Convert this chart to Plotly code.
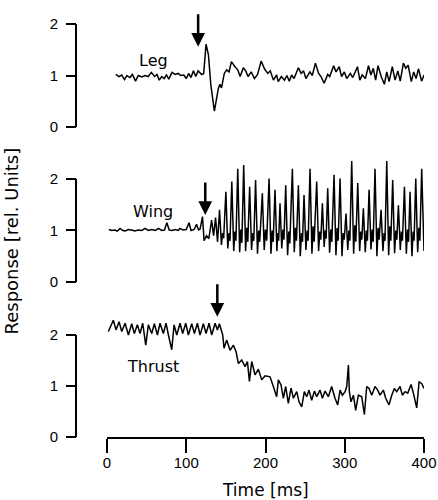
import plotly.graph_objects as go

# ---------------- data ----------------
leg_t = [11, 15, 18.5, 22, 25, 29, 32, 36, 39.5, 44,
         48, 52, 56, 60, 63, 66, 69, 72, 75, 78,
         82, 86, 90, 93, 97, 100, 103, 106, 109, 112,
         115, 119.5, 122, 125, 128, 131, 135.5, 138.5, 140.5, 142.5,
         144.5, 148, 151, 154, 157, 161.5, 165, 168, 172, 175,
         178, 182, 186, 190, 194.5, 199, 203, 206, 210, 214,
         216, 220, 224, 227, 230, 233, 236, 241.5, 245, 248,
         251, 256, 259, 263, 267, 270, 274, 278.5, 281, 286,
         289, 293, 296, 299.5, 302.5, 307, 310, 313, 316, 319,
         322, 326, 330, 333, 336, 339, 342, 346, 350, 353,
         356, 360, 363.5, 367, 370, 374, 377, 380, 384, 387,
         390, 393, 397, 400]
leg_v = [1.02, 0.98, 1.01, 0.92, 1.00, 0.96, 1.02, 0.89, 1.00, 0.97,
         1.00, 0.98, 1.06, 0.98, 1.02, 0.91, 0.98, 0.94, 1.01, 0.93,
         1.06, 1.02, 1.04, 1.00, 1.01, 0.94, 1.04, 0.96, 1.09, 0.98,
         1.09, 1.02, 1.04, 1.61, 1.40, 0.82, 0.31, 0.59, 0.75, 0.83,
         0.76, 1.04, 1.11, 1.07, 1.27, 1.17, 1.11, 0.98, 1.15, 1.09,
         0.98, 1.07, 0.94, 1.02, 1.28, 1.12, 1.04, 1.09, 0.91, 1.01,
         0.88, 0.98, 0.91, 1.00, 0.89, 1.01, 0.94, 1.15, 1.04, 1.09,
         0.94, 1.07, 1.00, 1.24, 1.04, 0.98, 0.85, 1.02, 0.98, 1.19,
         1.07, 1.17, 0.98, 1.07, 0.94, 1.04, 0.96, 1.06, 1.17, 0.91,
         1.01, 0.94, 1.19, 1.01, 1.14, 0.91, 1.19, 0.98, 0.83, 1.07,
         0.88, 1.17, 0.91, 1.09, 0.89, 1.24, 1.14, 1.20, 0.88, 1.07,
         0.94, 1.13, 0.89, 1.01]

wing_t = [2.5, 6, 10, 13, 16.5, 20, 23, 27, 31, 35,
          39.5, 44, 48, 52, 56.5, 61, 65, 69, 72.5, 75.5,
          78.5, 82, 86, 90, 92, 96, 100, 103.5, 106, 110,
          113, 115.5, 117.5, 120.5, 122.5, 125.5, 128.5,
          132, 134.5, 137, 139.5, 142, 144.4, 145.9, 147.2,
          150, 152.4, 153.9, 155.2, 157.5, 159.9, 161.4, 162.7,
          165, 167.4, 168.9, 170.2, 172.5, 174.9, 176.4, 177.7,
          180, 182.4, 183.9, 185.2, 187.5, 189.9, 191.4, 192.7,
          196, 198.4, 199.9, 201.5,
          204.5, 206.9, 208.4, 209.7, 212, 214.4, 215.5, 216.6,
          218.3, 220.5, 222, 223.3, 225.5, 227.9, 229.4, 230.7,
          233.9, 236.3, 237.8, 239.1, 241.5, 243.9, 245.4, 246.7,
          248.6, 251, 252.5, 253.8, 256.2, 258.6, 260.1, 261.4,
          264.6, 267, 268.5, 269.8, 271.8, 274, 275.3, 276.5,
          278.5, 280.9, 282.4, 283.7, 286.5, 288.9, 290.4, 291.7,
          294.1, 296.5, 298, 299.3, 301.6, 303.8, 305.2, 306.5,
          308.8, 311.2, 312.7, 314, 316.4, 318.8, 320.2, 321.5,
          323.5, 325.9, 327.3, 328.6, 330.7, 333.1, 334.6, 335.9,
          338.2, 340.6, 342.1, 343.4, 345.8, 348.2, 349.6, 350.8,
          353, 355.4, 356.9, 358.2, 360.5, 362.9, 364.4, 365.7,
          367.7, 370.1, 371.5, 372.8, 375.3, 377.7, 379.2, 380.5,
          382.4, 384.8, 386.3, 387.5, 389.6, 392, 393.5, 394.8,
          397.1, 400]
wing_v = [1.02, 1.00, 1.01, 0.99, 1.04, 1.00, 0.99, 1.02, 1.01, 0.99,
          1.01, 1.00, 1.04, 1.00, 1.02, 1.00, 1.04, 1.00, 1.01, 1.15,
          1.01, 1.00, 1.02, 1.00, 1.04, 1.01, 1.02, 1.15, 1.00, 1.02,
          1.12, 1.01, 1.03, 1.27, 0.80, 0.90, 0.84,
          1.20, 0.90, 1.25, 0.78, 1.40, 0.72, 0.95, 0.85,
          1.75, 0.65, 0.95, 0.80, 1.95, 0.60, 0.98, 0.80,
          2.20, 0.58, 1.02, 0.76, 2.27, 0.60, 1.05, 0.78,
          1.85, 0.62, 0.95, 0.80, 1.98, 0.55, 1.00, 0.78,
          1.72, 0.62, 1.02, 0.80,
          2.01, 0.55, 1.00, 0.78, 1.79, 0.60, 0.95, 0.80,
          1.53, 0.65, 1.02, 0.82, 1.88, 0.52, 0.98, 0.75,
          2.20, 0.58, 1.05, 0.80, 1.88, 0.50, 0.95, 0.78,
          1.69, 0.62, 1.00, 0.80, 2.20, 0.55, 1.08, 0.78,
          1.95, 0.60, 0.98, 0.82, 1.53, 0.68, 1.00, 0.84,
          1.82, 0.57, 1.02, 0.78, 2.08, 0.52, 1.05, 0.80,
          2.01, 0.50, 0.95, 0.82, 1.33, 0.62, 1.00, 0.80,
          2.35, 0.55, 1.10, 0.78, 1.92, 0.60, 0.98, 0.82,
          1.43, 0.58, 1.00, 0.80, 1.79, 0.63, 1.02, 0.78,
          2.20, 0.50, 1.05, 0.82, 1.40, 0.60, 0.95, 0.80,
          2.35, 0.52, 1.08, 0.80, 1.98, 0.56, 1.00, 0.82,
          1.49, 0.62, 0.98, 0.80, 1.85, 0.55, 1.02, 0.78,
          1.75, 0.50, 0.98, 0.80, 2.01, 0.58, 1.05, 0.80,
          2.20, 0.60]

thrust_t = [1.7, 8, 11.4, 15.2, 18.6, 22.8, 27, 31.2, 34.5, 38.3,
            41.7, 45.1, 48.9, 52.2, 56.4, 59.8, 63.6, 66.9, 71.1, 74.5,
            77.5, 81.7, 84.6, 88, 92.2, 95.5, 99.3, 102.7, 106.9, 110.3,
            114.1, 117.4, 121.6, 125, 128.8, 132.1, 136.4, 139.3, 141.8, 146,
            147.7, 151, 155.3, 159.5, 162.9, 165.8, 170, 174.2, 177.2, 179.7,
            182.6, 186.8, 191, 195.2, 199.5, 205.7, 209.9, 214.1, 216.2, 219.6,
            222.5, 225.5, 228.8, 232.2, 235.2, 239.4, 242.3, 245.7, 249, 252,
            254.9, 258.3, 261.7, 264.6, 268.8, 271.8, 275.1, 279.3, 283.5, 287.7,
            291.1, 294.1, 297, 300.4, 302.5, 304.6, 305.8, 307.9, 310.9, 313.8,
            317.2, 321.4, 324.8, 327.7, 330.7, 334, 338.2, 341.6, 344.5, 348.7,
            351.7, 355.9, 359.3, 362.6, 365.6, 369.8, 372.7, 376.1, 379.5, 383.7,
            386.6, 390.8, 393.8, 397.1, 400]
thrust_v = [2.07, 2.29, 2.10, 2.26, 2.07, 2.23, 2.00, 2.22, 2.03, 2.20,
            2.03, 2.23, 1.80, 2.20, 2.03, 2.22, 2.00, 2.23, 2.03, 2.23,
            2.00, 1.71, 2.20, 2.00, 2.23, 2.03, 2.23, 2.00, 2.22, 2.03,
            2.23, 2.00, 2.22, 2.03, 2.23, 2.00, 2.23, 2.10, 2.22, 2.00,
            1.74, 1.90, 1.70, 1.80, 1.67, 1.44, 1.51, 1.38, 1.48, 1.09,
            1.48, 1.22, 1.33, 1.12, 1.20, 1.18, 0.99, 0.79, 1.12, 1.02,
            0.76, 0.99, 0.66, 0.96, 0.76, 0.89, 0.69, 0.59, 0.89, 0.79,
            0.92, 0.72, 0.90, 0.79, 0.92, 0.76, 0.90, 0.79, 0.99, 0.76,
            0.63, 0.92, 0.82, 0.89, 0.99, 1.41, 0.89, 0.69, 0.82, 0.52,
            0.82, 0.79, 0.44, 0.99, 0.95, 0.82, 0.99, 0.92, 0.82, 0.92,
            0.76, 0.63, 0.82, 0.95, 0.89, 0.99, 0.82, 0.89, 0.86, 1.03,
            0.86, 0.57, 1.08, 1.05, 0.95]

panel_names = ["Leg", "Wing", "Thrust"]
stim_t = [115, 124, 139.2]          # arrow positions (ms)
stim_v = [1.56, 1.30, 2.36]         # arrow tip values
label_t = [59, 58, 58]
label_v = [1.30, 1.36, 1.38]
x_ticks = [0, 100, 200, 300, 400]
y_ticks = [0, 1, 2]

# ---------------- figure ----------------
W, H = 438, 500
fig = go.Figure()
line = dict(color="black", width=1.5)
fig.add_trace(go.Scatter(x=leg_t, y=leg_v, mode="lines", line=line, xaxis="x", yaxis="y"))
fig.add_trace(go.Scatter(x=wing_t, y=wing_v, mode="lines", line=line, xaxis="x", yaxis="y2"))
fig.add_trace(go.Scatter(x=thrust_t, y=thrust_v, mode="lines", line=line, xaxis="x", yaxis="y3"))

tickfont = dict(family="Liberation Sans, Arial", size=15, color="black")
yax_common = dict(anchor="free", position=0, tickvals=y_ticks, ticks="outside",
                  ticklen=10, tickwidth=2, tickcolor="black", showline=False,
                  showgrid=False, zeroline=False, tickfont=tickfont, ticklabelstandoff=5)

fig.update_layout(
    width=W, height=H, template="none",
    margin=dict(l=76, r=14, t=0, b=0),
    paper_bgcolor="white", plot_bgcolor="white", showlegend=False,
    xaxis=dict(domain=[31 / 348, 1], range=[0, 400], tickvals=x_ticks, ticks="outside",
               ticklen=14, tickwidth=2, tickcolor="black", showline=True, linewidth=2,
               linecolor="black", anchor="y3", showgrid=False, zeroline=False,
               tickfont=tickfont, ticklabelstandoff=-3),
    yaxis=dict(domain=[0.7254, 0.9932], range=[-0.2, 2.4], **yax_common),
    yaxis2=dict(domain=[0.4154, 0.6884], range=[-0.2, 2.45], **yax_common),
    yaxis3=dict(domain=[0.126, 0.3759], range=[0, 2.45], **yax_common),
)

yrefs = ["y", "y2", "y3"]
for i, yr in enumerate(yrefs):
    fig.add_shape(type="line", xref="paper", yref=yr, x0=0, x1=0, y0=y_ticks[0], y1=y_ticks[-1],
                  line=dict(color="black", width=2))
    fig.add_annotation(x=stim_t[i], y=stim_v[i], xref="x", yref=yr, text="", showarrow=True,
                       ax=0, ay=-34, arrowhead=2, arrowsize=1.1, arrowwidth=2.5,
                       arrowcolor="black", standoff=0)
    fig.add_annotation(x=label_t[i], y=label_v[i], xref="x", yref=yr, text=panel_names[i],
                       showarrow=False, xanchor="center", yanchor="middle",
                       font=dict(family="DejaVu Sans", size=16, color="black"))

fig.add_annotation(x=(265.5 - 76) / 348, y=1 - 490 / H, xref="paper", yref="paper",
                   text="Time [ms]", showarrow=False, xanchor="center", yanchor="middle",
                   font=dict(family="DejaVu Sans", size=17, color="black"))
fig.add_annotation(x=(10.5 - 76) / 348, y=1 - 241 / H, xref="paper", yref="paper",
                   text="Response [rel. Units]", showarrow=False, textangle=-90,
                   xanchor="center", yanchor="middle",
                   font=dict(family="DejaVu Sans", size=18, color="black"))

# remove the browser's default 8 px page margin so the 438x500 figure fills the window
fig.write_html("out.html", config={"displayModeBar": False},
               post_script="document.body.style.margin='0';document.body.style.padding='0';")
